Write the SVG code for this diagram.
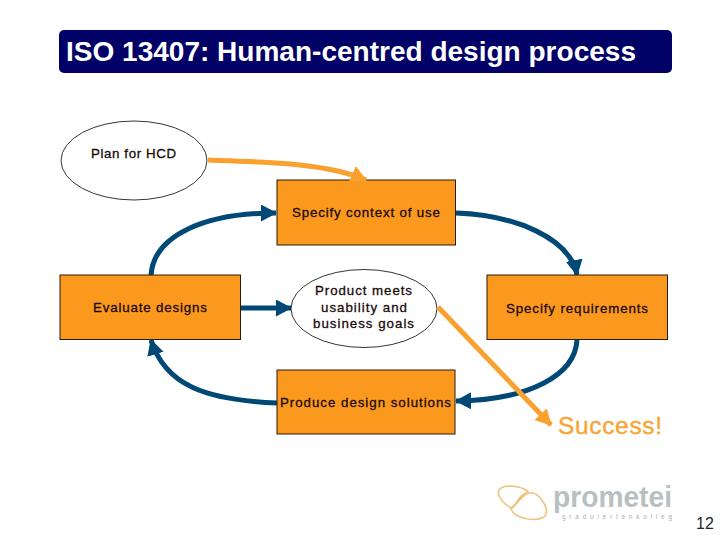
<svg xmlns="http://www.w3.org/2000/svg" width="720" height="540" viewBox="0 0 720 540">
<style>
text{font-family:"Liberation Sans",Arial,sans-serif}
.box{fill:#fb981e;stroke:#2a1a08;stroke-width:1}
.oval{fill:#fff;stroke:#000;stroke-width:.8}
.lbl{font-size:13.3px;fill:#1a0a08;text-anchor:middle;stroke:#1a0a08;stroke-width:.3}
.blue{fill:none;stroke:#004876;stroke-width:5}
.or{fill:none;stroke:#f9a02e;stroke-width:5}
</style>
<defs>
<marker id="ab" markerUnits="userSpaceOnUse" markerWidth="18" markerHeight="18" refX="15" refY="8.5" orient="auto"><path d="M0 0L16 8.500L0 17z" fill="#004876"/></marker>
<marker id="ao" markerUnits="userSpaceOnUse" markerWidth="18" markerHeight="18" refX="15" refY="8.5" orient="auto"><path d="M0 0L16 8.500L0 17z" fill="#f9a02e"/></marker>
</defs>
<rect width="720" height="540" fill="#fff"/>
<g id="title"><rect x="59" y="30" width="613" height="43" rx="5" fill="#000066"/><text x="66" y="61" font-size="27" font-weight="700" fill="#fff" textLength="570" lengthAdjust="spacingAndGlyphs">ISO 13407: Human-centred design process</text></g>
<g id="connectors">
<path class="blue" d="M151 275C154 235 205 213 276 213" marker-end="url(#ab)"/>
<path class="blue" d="M456 213C515 215 570 238 577 275" marker-end="url(#ab)"/>
<path class="blue" d="M577 340C575 375 530 400 456 401" marker-end="url(#ab)"/>
<path class="blue" d="M277 403C205 400 165 385 151 340" marker-end="url(#ab)"/>
<path class="blue" d="M241 308L291 308" marker-end="url(#ab)"/>
</g>
<g id="plan"><ellipse class="oval" cx="134" cy="160.5" rx="73" ry="39.5"/><text class="lbl" x="133.500" y="158" textLength="85">Plan for HCD</text></g>
<g id="context"><rect class="box" x="277" y="180" width="178.500" height="65"/><text class="lbl" x="366" y="217" textLength="148">Specify context of use</text></g>
<g id="evaluate"><rect class="box" x="60" y="275" width="180.500" height="64.500"/><text class="lbl" x="150" y="312" textLength="114">Evaluate designs</text></g>
<g id="goal"><ellipse class="oval" cx="364" cy="308.500" rx="73" ry="39"/><text class="lbl" x="363.500" y="295" textLength="97">Product meets</text><text class="lbl" x="364" y="312" textLength="86">usability and</text><text class="lbl" x="363.500" y="328" textLength="101">business goals</text></g>
<g id="requirements"><rect class="box" x="487" y="275" width="180.500" height="64.500"/><text class="lbl" x="577" y="313" textLength="142">Specify requirements</text></g>
<g id="produce"><rect class="box" x="277" y="370" width="178" height="64"/><text class="lbl" x="365.500" y="407" textLength="171">Produce design solutions</text></g>
<g id="other-arrows">
<path class="or" d="M208 160C265 162 328 163 366 180" marker-end="url(#ao)"/>
<path class="or" d="M438 307L551 425" marker-end="url(#ao)"/>
</g>
<g id="success"><text x="558" y="434" font-size="24.500" fill="#f9a436" stroke="#f9a436" stroke-width=".4" textLength="104">Success!</text></g>
<g id="logo">
<path d="M528 491C520 486 505 484 500 489C495 494 503 504 511 508C517 505 518 497 524 494C526 492 528 492 528 491Z" fill="none" stroke="#eec27a" stroke-width="1.500"/>
<path d="M511 509C516 505 520 498 525 495C532 490 537 494 541 499C546 505 549 513 544 517C536 522 515 519 511 509Z" fill="none" stroke="#eec27a" stroke-width="1.500"/>
<text x="553" y="507" font-size="29" font-weight="700" fill="#b9c0c1" textLength="119" lengthAdjust="spacingAndGlyphs">prometei</text>
<text x="562" y="519" font-size="6.500" fill="#a9b1b2" textLength="110">graduiertenkolleg</text>
</g>
<g id="page"><text x="696" y="529" font-size="16" fill="#222">12</text></g>
</svg>
